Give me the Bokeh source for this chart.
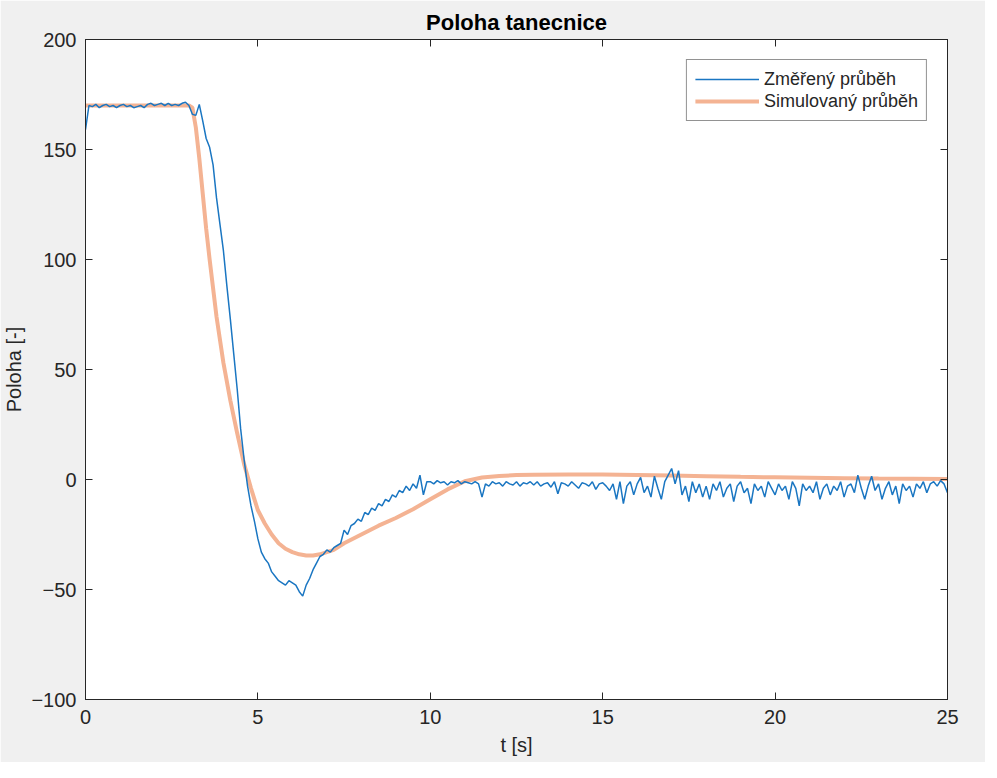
import numpy as np
from bokeh.plotting import figure
from bokeh.models import (Range1d, LinearAxis, FixedTicker, Legend, LegendItem,
                          CustomLabelingPolicy)
from bokeh.embed import file_html
from bokeh.resources import INLINE

title_text = "Poloha tanecnice"
x_label = "t [s]"
y_label = "Poloha [-]"
series_names = ["Změřený průběh", "Simulovaný průběh"]
x_ticks = [0, 5, 10, 15, 20, 25]
y_ticks = [-100, -50, 0, 50, 100, 150, 200]

# measured signal, sampled every 0.1 s from 0 to 25 s
meas_dt = 0.1
meas_v = [
    159, 170, 169.5, 170.5, 169, 170, 170.5, 169.5, 170, 169,
    170, 170.5, 169.5, 170, 169, 169.5, 170, 169, 170.5, 171,
    170, 170.5, 171, 170, 171, 170, 170.5, 170, 171, 171.5,
    170, 166, 165.5, 170.5, 163, 155, 151, 143, 128, 116,
    104, 88, 73, 57, 41, 23, 9, -3, -12, -19,
    -27, -33, -36, -38, -42, -44, -46, -47, -48, -46,
    -47, -48, -51, -53, -48, -45, -41, -38, -35, -34,
    -32, -33, -31, -30, -29, -23, -25, -21, -20, -18,
    -19, -15, -16, -13, -14, -11, -12, -9, -10, -7,
    -8, -5, -6, -3, -5, -2, -4, 2, -7, -1,
    -1, -2, -0.5, -1.5, -1, -2.5, -1, -1.5, -0.5, -2,
    -1, -1.5, -2, -1, -2, -8, -2, -3, -1, -2,
    -1.5, -3, -1, -2, -2.5, -1, -3, -1.5, -2, -1,
    -2.5, -1, -3, -2, -1.5, -3.5, -1, -6.5, -1.5, -2,
    -3, -1, -2.5, -4, -1.5, -2, -3, -1, -4.5, -2,
    -1.5, -3, -5, -2, -9, -1, -11, -3, -1, -7,
    -2, 1, -6, -3, -8, 1.5, -4, -9, -1, 2,
    5, -2, 4, -7, -3, -10, -1, -6, -2, -8,
    -3, -9, -2, -5, -1, -8, -4, -2, -10, -3,
    -1, -6, -4, -11, -2, -5, -3, -8, -1, -4,
    -7, -2, -5, -3, -9, -1, -4, -12, -2, -5,
    -3, -6, -1, -9, -4, -2, -7, -3, -5, -1,
    -8, -3, -2, -6, 2, -4, -9, -3, 1.5, -5,
    -2, -9, -4, -1, -7, -3, -11, -2, -5, -3,
    -8, -2, -4, -1, -6, -2, -1, -3, -0.5, -2,
    -6,
]
meas_t = [round(i * meas_dt, 1) for i in range(len(meas_v))]

# simulated response
sim_t = [0, 3.0, 3.1, 3.2, 3.3, 3.4, 3.5, 3.6, 3.8, 4.0, 4.2, 4.4, 4.6, 4.8,
         5.0, 5.2, 5.4, 5.6, 5.8, 6.0, 6.2, 6.4, 6.6, 6.8, 7.0, 7.2, 7.5,
         8.0, 8.5, 9.0, 9.5, 10.0, 10.5, 11.0, 11.5, 12.0, 12.5, 13, 14, 15,
         16, 17, 18, 19, 20, 21, 22, 23, 24, 25]
sim_v = [170, 170, 169, 160, 146, 130, 114, 100, 74, 53, 36, 21, 7, -4,
         -14, -20, -25, -29, -31.5, -33, -34, -34.5, -34.5, -34, -33, -32, -29,
         -25, -21, -17.5, -13.5, -9, -4.5, -0.8, 0.9, 1.6, 2.0, 2.2, 2.3, 2.3,
         2.1, 1.8, 1.5, 1.2, 1.0, 0.8, 0.6, 0.4, 0.3, 0.2]

FONT = "Liberation Sans"
DARK = "#262626"

p = figure(width=985, height=762, output_backend="svg", toolbar_location=None,
           x_range=Range1d(0, 25), y_range=Range1d(-100, 200),
           min_border_left=85, min_border_right=38, min_border_top=39,
           min_border_bottom=63, background_fill_color="white",
           border_fill_color="#F0F0F0", outline_line_color=DARK,
           outline_line_width=1)

p.title.text = title_text
p.title.align = "center"
p.title.text_font = FONT
p.title.text_font_size = "22px"
p.title.text_font_style = "bold"
p.title.text_color = "#000000"

p.grid.visible = False

p.xaxis.ticker = FixedTicker(ticks=x_ticks)
p.yaxis.ticker = FixedTicker(ticks=y_ticks)
for ax in (p.xaxis[0], p.yaxis[0]):
    ax.major_tick_in = 7
    ax.major_tick_out = 0
    ax.minor_tick_line_color = None
    ax.axis_line_color = DARK
    ax.major_tick_line_color = DARK
    ax.major_label_text_font = FONT
    ax.major_label_text_font_size = "20px"
    ax.major_label_text_color = DARK
    ax.axis_label_text_font = FONT
    ax.axis_label_text_font_size = "20px"
    ax.axis_label_text_font_style = "normal"
    ax.axis_label_text_color = DARK
p.xaxis.axis_label = x_label
p.yaxis.axis_label = y_label
p.xaxis.major_label_standoff = 10
p.yaxis.major_label_standoff = 9
p.xaxis.axis_label_standoff = 7
p.yaxis.axis_label_standoff = 3

# mirrored tick marks on the top and right edges (no labels)
for loc, ticks in (("above", x_ticks), ("right", y_ticks)):
    ax = LinearAxis(ticker=FixedTicker(ticks=ticks),
                    major_label_policy=CustomLabelingPolicy(code="return []"),
                    major_label_text_font_size="0px",
                    major_tick_in=7, major_tick_out=0, minor_tick_line_color=None,
                    axis_line_color=DARK, major_tick_line_color=DARK,
                    major_label_standoff=0)
    p.add_layout(ax, loc)

r_sim = p.line(sim_t, sim_v, line_color="#F4B393", line_width=4)
r_meas = p.line(meas_t, meas_v, line_color="#1A76C2", line_width=1.5)

legend = Legend(items=[LegendItem(label=series_names[0], renderers=[r_meas]),
                       LegendItem(label=series_names[1], renderers=[r_sim])],
                location="top_right", margin=20, padding=8, spacing=0,
                glyph_width=64, glyph_height=22, label_height=22, label_standoff=5,
                label_text_font=FONT, label_text_font_size="18px",
                label_text_color=DARK, border_line_color=DARK,
                background_fill_color="white", background_fill_alpha=1)
p.add_layout(legend)

open("out.html", "w").write(file_html(p, INLINE))
